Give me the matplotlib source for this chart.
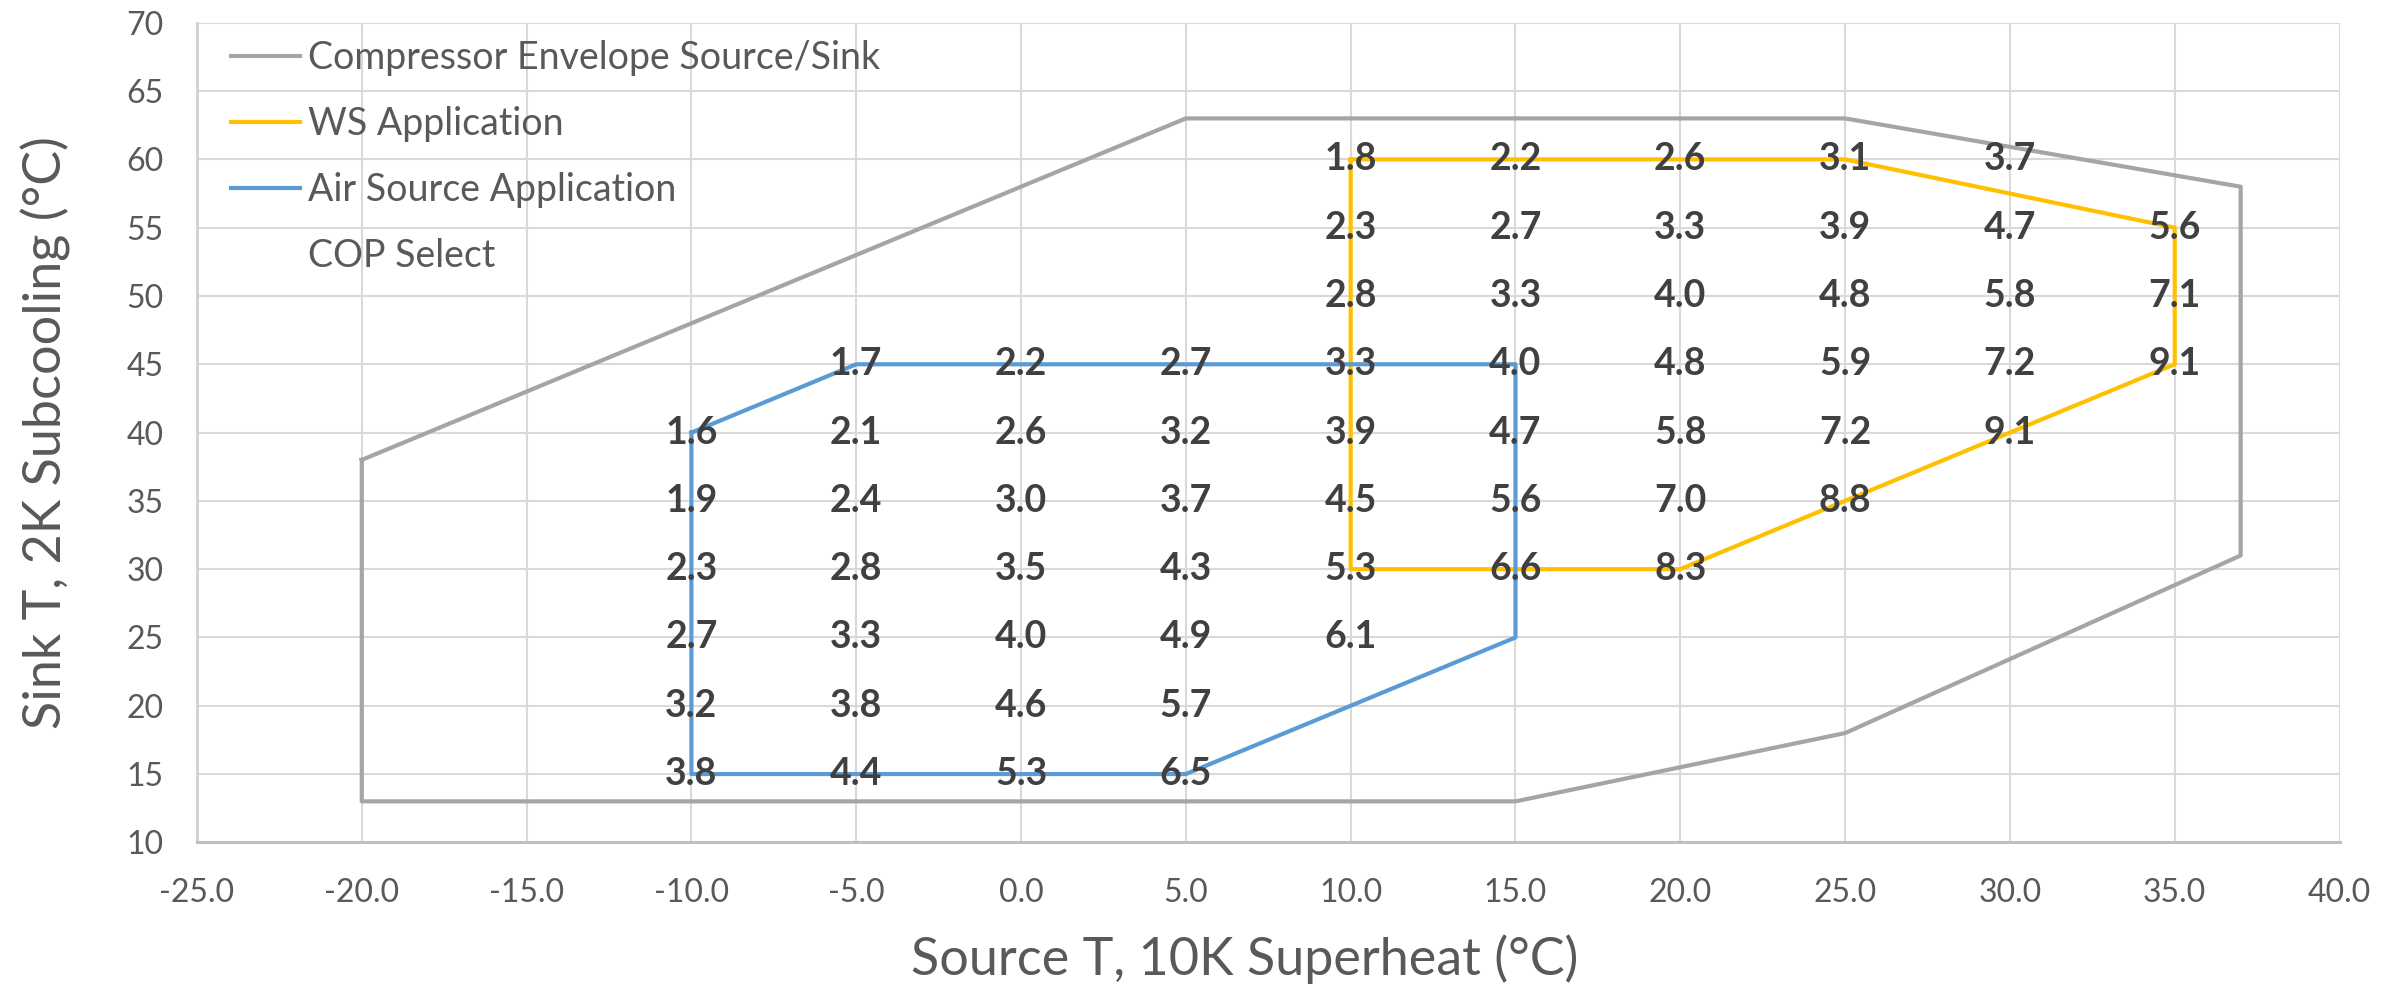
import matplotlib
matplotlib.use("Agg")
import matplotlib.pyplot as plt
from matplotlib.ticker import FuncFormatter, MultipleLocator

# Envelope polygons
env_x = [-20, 5, 25, 37, 37, 25, 15, -20, -20]
env_y = [38, 63, 63, 58, 31, 18, 13, 13, 38]

ws_x = [10, 25, 35, 35, 20, 10, 10]
ws_y = [60, 60, 55, 45, 30, 30, 60]

air_x = [-10, -5, 15, 15, 5, -10, -10]
air_y = [40, 45, 45, 25, 15, 15, 40]

# COP labels by row (sink T) : list of (source T, COP)
cop_rows = {
    60: ([10, 15, 20, 25, 30], ["1.8", "2.2", "2.6", "3.1", "3.7"]),
    55: ([10, 15, 20, 25, 30, 35], ["2.3", "2.7", "3.3", "3.9", "4.7", "5.6"]),
    50: ([10, 15, 20, 25, 30, 35], ["2.8", "3.3", "4.0", "4.8", "5.8", "7.1"]),
    45: ([-5, 0, 5, 10, 15, 20, 25, 30, 35],
         ["1.7", "2.2", "2.7", "3.3", "4.0", "4.8", "5.9", "7.2", "9.1"]),
    40: ([-10, -5, 0, 5, 10, 15, 20, 25, 30],
         ["1.6", "2.1", "2.6", "3.2", "3.9", "4.7", "5.8", "7.2", "9.1"]),
    35: ([-10, -5, 0, 5, 10, 15, 20, 25],
         ["1.9", "2.4", "3.0", "3.7", "4.5", "5.6", "7.0", "8.8"]),
    30: ([-10, -5, 0, 5, 10, 15, 20],
         ["2.3", "2.8", "3.5", "4.3", "5.3", "6.6", "8.3"]),
    25: ([-10, -5, 0, 5, 10], ["2.7", "3.3", "4.0", "4.9", "6.1"]),
    20: ([-10, -5, 0, 5], ["3.2", "3.8", "4.6", "5.7"]),
    15: ([-10, -5, 0, 5], ["3.8", "4.4", "5.3", "6.5"]),
}

plt.rcParams['font.family'] = ['Lato', 'DejaVu Sans']

fig = plt.figure(figsize=(24.02, 9.91), dpi=100)
ax = fig.add_axes([0.082, 0.150, 0.892, 0.827])

ax.plot(env_x, env_y, color="#A5A5A5", lw=3, label="Compressor Envelope Source/Sink",
        zorder=3)
ax.plot(ws_x, ws_y, color="#FFC000", lw=3, label="WS Application", zorder=3)
ax.plot(air_x, air_y, color="#5B9BD5", lw=3, label="Air Source Application", zorder=3)

all_x, all_y = [], []
for yv, (xs, labs) in cop_rows.items():
    for xv, lab in zip(xs, labs):
        all_x.append(xv)
        all_y.append(yv)
        ax.text(xv, yv, lab, ha="center", va="center", fontsize=27,
                fontweight="bold", color="#404040", zorder=4)
ax.plot(all_x, all_y, linestyle="none", marker="None", label="COP Select")

ax.set_xlim(-25, 40)
ax.set_ylim(10, 70)
ax.xaxis.set_major_locator(MultipleLocator(5))
ax.yaxis.set_major_locator(MultipleLocator(5))
ax.xaxis.set_major_formatter(FuncFormatter(lambda v, p: f"{v:.1f}"))
ax.yaxis.set_major_formatter(FuncFormatter(lambda v, p: f"{v:.0f}"))
ax.grid(True, color="#D9D9D9", lw=1.5, zorder=0)
ax.set_axisbelow(True)
for s in ["top", "right"]:
    ax.spines[s].set_visible(False)
ax.spines["left"].set_color("#D0D0D0")
ax.spines["left"].set_linewidth(2)
ax.spines["bottom"].set_color("#BFBFBF")
ax.spines["bottom"].set_linewidth(2.2)
ax.tick_params(axis="both", length=0, labelsize=23, colors="#595959")
ax.tick_params(axis="x", pad=26)
ax.tick_params(axis="y", pad=24)

ax.set_xlabel("Source T, 10K Superheat (°C)", fontsize=37.5, color="#595959")
ax.xaxis.set_label_coords(0.489, -0.112)
ax.set_ylabel("Sink T, 2K Subcooling (°C)", fontsize=37.5, color="#595959", labelpad=40)

leg = ax.legend(loc="upper left", frameon=False, fontsize=27, handlelength=1.85,
                labelspacing=0.8, borderaxespad=0.05, handletextpad=0.2,
                labelcolor="#595959", bbox_to_anchor=(0.008, 1.0))

fig.savefig("out.png", dpi=100, facecolor="white")
